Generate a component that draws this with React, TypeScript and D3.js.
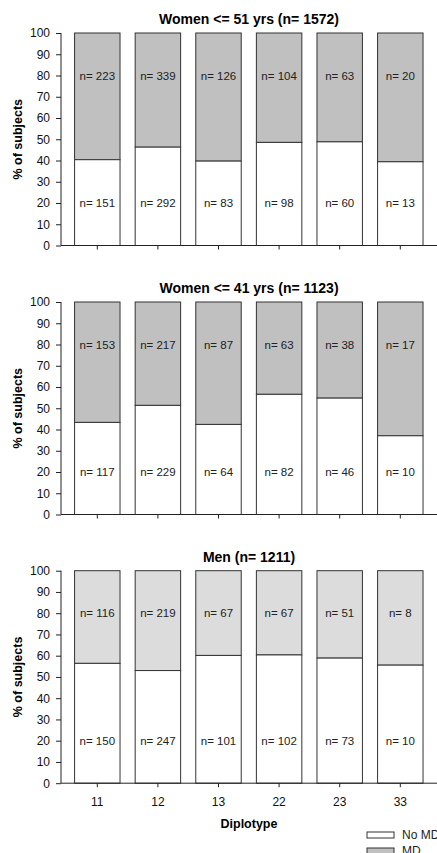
import React, { useEffect, useRef } from 'react';
import * as d3 from 'd3';

// diplotype categories on the x axis
const diplotypes = ['11', '12', '13', '22', '23', '33'];

// counts per panel (No MD = without migraine, MD = with)
const panelTitles = ['Women <= 51 yrs (n= 1572)', 'Women <= 41 yrs (n= 1123)', 'Men (n= 1211)'];
const noMdCounts = [
  [151, 292, 83, 98, 60, 13],
  [117, 229, 64, 82, 46, 10],
  [150, 247, 101, 102, 73, 10],
];
const mdCounts = [
  [223, 339, 126, 104, 63, 20],
  [153, 217, 87, 63, 38, 17],
  [116, 219, 67, 67, 51, 8],
];
const mdColors = ['#c0c0c0', '#c0c0c0', '#dcdcdc'];
const yTicks = [0, 10, 20, 30, 40, 50, 60, 70, 80, 90, 100];
const legendItems = [
  { label: 'No MD', color: '#ffffff' },
  { label: 'MD', color: '#c0c0c0' },
];

const FONT = '"Liberation Sans", Arial, sans-serif';

const App = () => {
  const ref = useRef<SVGSVGElement>(null);

  useEffect(() => {
    document.body.style.margin = '0';
    const width = 437;
    const height = 853;
    const svg = d3.select(ref.current).attr('width', width).attr('height', height);
    svg.selectAll('*').remove();

    const axisLeft = 61;
    const axisRight = 437;
    const panelTops = [33, 302, 570.7];
    const panelHeight = 212.5;

    const x = d3.scaleBand<string>()
      .domain(diplotypes)
      .range([67, 67 + 6 * 60.6])
      .paddingInner(0.25)
      .paddingOuter(0.125);

    panelTops.forEach((top, p) => {
      const bottom = top + panelHeight;
      const y = d3.scaleLinear().domain([0, 100]).range([bottom, top]);
      const g = svg.append('g');

      const rows = diplotypes.map((d, i) => {
        const total = noMdCounts[p][i] + mdCounts[p][i];
        return { d, no: noMdCounts[p][i], md: mdCounts[p][i], pct: (noMdCounts[p][i] / total) * 100 };
      });

      // MD part (top)
      g.selectAll('rect.md')
        .data(rows)
        .join('rect')
        .attr('class', 'md')
        .attr('x', r => x(r.d)!)
        .attr('y', y(100))
        .attr('width', x.bandwidth())
        .attr('height', r => y(r.pct) - y(100))
        .attr('fill', mdColors[p])
        .attr('stroke', '#333')
        .attr('stroke-width', 1);

      // No MD part (bottom)
      g.selectAll('rect.nomd')
        .data(rows)
        .join('rect')
        .attr('class', 'nomd')
        .attr('x', r => x(r.d)!)
        .attr('y', r => y(r.pct))
        .attr('width', x.bandwidth())
        .attr('height', r => y(0) - y(r.pct))
        .attr('fill', '#fff')
        .attr('stroke', '#333')
        .attr('stroke-width', 1);

      // n labels
      g.selectAll('text.nmd')
        .data(rows)
        .join('text')
        .attr('x', r => x(r.d)! + x.bandwidth() / 2)
        .attr('y', y(80))
        .attr('dy', '0.36em')
        .attr('text-anchor', 'middle')
        .style('font-family', FONT)
        .style('font-size', '11.5px')
        .attr('fill', '#222')
        .text(r => `n= ${r.md}`);

      g.selectAll('text.nno')
        .data(rows)
        .join('text')
        .attr('x', r => x(r.d)! + x.bandwidth() / 2)
        .attr('y', y(20))
        .attr('dy', '0.36em')
        .attr('text-anchor', 'middle')
        .style('font-family', FONT)
        .style('font-size', '11.5px')
        .attr('fill', '#222')
        .text(r => `n= ${r.no}`);

      // y axis
      const ya = g.append('g')
        .attr('transform', `translate(${axisLeft},0)`)
        .call(d3.axisLeft(y).tickValues(yTicks).tickSize(5).tickPadding(6));
      ya.select('.domain').attr('d', `M-0,${y(100)}V${y(0)}`).attr('stroke', '#222');
      ya.selectAll('line').attr('stroke', '#222');
      ya.selectAll('text').style('font-family', FONT).style('font-size', '12px').attr('fill', '#111');

      // x axis
      const xa = g.append('g')
        .attr('transform', `translate(0,${bottom})`)
        .call(d3.axisBottom(x).tickSize(4).tickPadding(10).tickFormat(p === 2 ? (d => d) : () => ''));
      xa.select('.domain').attr('d', `M${axisLeft},0H${axisRight}`).attr('stroke', '#222');
      xa.selectAll('line').attr('stroke', '#222');
      xa.selectAll('text').style('font-family', FONT).style('font-size', '12px').attr('fill', '#111');

      // panel title
      svg.append('text')
        .attr('x', (axisLeft + axisRight) / 2)
        .attr('y', top - 9)
        .attr('text-anchor', 'middle')
        .style('font-family', FONT)
        .style('font-size', '14px')
        .style('font-weight', 'bold')
        .text(panelTitles[p]);

      // y axis title
      svg.append('text')
        .attr('transform', `translate(17,${(top + bottom) / 2}) rotate(-90)`)
        .attr('text-anchor', 'middle')
        .attr('dy', '0.36em')
        .style('font-family', FONT)
        .style('font-size', '12.5px')
        .style('font-weight', 'bold')
        .text('% of subjects');
    });

    // x axis title
    svg.append('text')
      .attr('x', (axisLeft + axisRight) / 2)
      .attr('y', 828)
      .attr('text-anchor', 'middle')
      .style('font-family', FONT)
      .style('font-size', '12.5px')
      .style('font-weight', 'bold')
      .text('Diplotype');

    // legend
    const legend = svg.append('g').attr('transform', 'translate(367,832)');
    legendItems.forEach((item, i) => {
      legend.append('rect')
        .attr('x', 0)
        .attr('y', i * 16)
        .attr('width', 27)
        .attr('height', 6)
        .attr('fill', item.color)
        .attr('stroke', '#333');
      legend.append('text')
        .attr('x', 35)
        .attr('y', i * 16 + 3)
        .attr('dy', '0.36em')
        .style('font-family', FONT)
        .style('font-size', '12px')
        .attr('fill', '#222')
        .text(item.label);
    });
  }, []);

  return <svg ref={ref} style={{ display: 'block' }}></svg>;
};

export default App;
